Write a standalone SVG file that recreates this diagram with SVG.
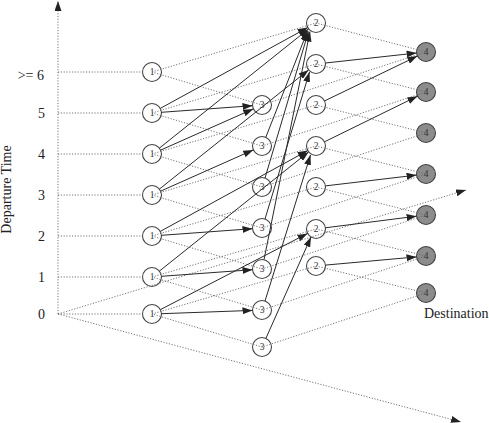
<svg xmlns="http://www.w3.org/2000/svg" width="489" height="423" viewBox="0 0 489 423">
<style>
.dot{fill:none;stroke:#666;stroke-width:0.9;stroke-dasharray:1.2 1.6}
.arr{fill:none;stroke:#2a2a2a;stroke-width:1;marker-end:url(#ah)}
.ax{fill:none;stroke:#666;stroke-width:0.9;stroke-dasharray:1.2 1.6;marker-end:url(#ah)}
.n{fill:none;stroke:#444;stroke-width:1.1}
.d{fill:#8c8c8c;stroke:#444;stroke-width:1.1}
.nt{font-family:"Liberation Serif",serif;font-size:9.5px;fill:#333;text-anchor:middle}
.lab{font-family:"Liberation Serif",serif;font-size:14px;fill:#222}
</style>
<defs>
<marker id="ah" markerUnits="userSpaceOnUse" markerWidth="10" markerHeight="7" viewBox="0 0 10 7" refX="10" refY="3.5" orient="auto">
<path d="M0,0 L10,3.5 L0,7 z" fill="#222" stroke="none"/>
</marker>
</defs>
<g id="labels">
<text class="lab" x="44" y="80" text-anchor="end">&gt;= 6</text>
<text class="lab" x="41.5" y="118" text-anchor="middle">5</text>
<text class="lab" x="41.5" y="159" text-anchor="middle">4</text>
<text class="lab" x="41.5" y="200" text-anchor="middle">3</text>
<text class="lab" x="41.5" y="241" text-anchor="middle">2</text>
<text class="lab" x="41.5" y="282" text-anchor="middle">1</text>
<text class="lab" x="41.5" y="319" text-anchor="middle">0</text>
<text class="lab" x="11" y="189.5" font-size="13" text-anchor="middle" transform="rotate(-90 11 189.5)">Departure Time</text>
<text class="lab" x="424" y="318">Destination</text>
</g>
<g id="n1_0"><circle class="n" cx="152" cy="314" r="9.5"/><text class="nt" x="152" y="317.3">1</text></g>
<g id="n1_1"><circle class="n" cx="152" cy="277" r="9.5"/><text class="nt" x="152" y="280.3">1</text></g>
<g id="n1_2"><circle class="n" cx="152" cy="236" r="9.5"/><text class="nt" x="152" y="239.3">1</text></g>
<g id="n1_3"><circle class="n" cx="152" cy="195" r="9.5"/><text class="nt" x="152" y="198.3">1</text></g>
<g id="n1_4"><circle class="n" cx="152" cy="154" r="9.5"/><text class="nt" x="152" y="157.3">1</text></g>
<g id="n1_5"><circle class="n" cx="152" cy="113" r="9.5"/><text class="nt" x="152" y="116.3">1</text></g>
<g id="n1_6"><circle class="n" cx="152" cy="72" r="9.5"/><text class="nt" x="152" y="75.3">1</text></g>
<g id="n2_0"><circle class="n" cx="316" cy="266" r="9.5"/><text class="nt" x="316" y="269.3">2</text></g>
<g id="n2_1"><circle class="n" cx="316" cy="229" r="9.5"/><text class="nt" x="316" y="232.3">2</text></g>
<g id="n2_2"><circle class="n" cx="316" cy="187" r="9.5"/><text class="nt" x="316" y="190.3">2</text></g>
<g id="n2_3"><circle class="n" cx="316" cy="146" r="9.5"/><text class="nt" x="316" y="149.3">2</text></g>
<g id="n2_4"><circle class="n" cx="316" cy="105" r="9.5"/><text class="nt" x="316" y="108.3">2</text></g>
<g id="n2_5"><circle class="n" cx="316" cy="64" r="9.5"/><text class="nt" x="316" y="67.3">2</text></g>
<g id="n2_6"><circle class="n" cx="316" cy="23" r="9.5"/><text class="nt" x="316" y="26.3">2</text></g>
<g id="n3_0"><circle class="n" cx="262" cy="347" r="9.5"/><text class="nt" x="262" y="350.3">3</text></g>
<g id="n3_1"><circle class="n" cx="262" cy="310" r="9.5"/><text class="nt" x="262" y="313.3">3</text></g>
<g id="n3_2"><circle class="n" cx="262" cy="269" r="9.5"/><text class="nt" x="262" y="272.3">3</text></g>
<g id="n3_3"><circle class="n" cx="262" cy="228" r="9.5"/><text class="nt" x="262" y="231.3">3</text></g>
<g id="n3_4"><circle class="n" cx="262" cy="187" r="9.5"/><text class="nt" x="262" y="190.3">3</text></g>
<g id="n3_5"><circle class="n" cx="262" cy="146" r="9.5"/><text class="nt" x="262" y="149.3">3</text></g>
<g id="n3_6"><circle class="n" cx="262" cy="105" r="9.5"/><text class="nt" x="262" y="108.3">3</text></g>
<g id="n4_0"><circle class="d" cx="426" cy="293" r="9.5"/><text class="nt" x="426" y="296.3">4</text></g>
<g id="n4_1"><circle class="d" cx="426" cy="256" r="9.5"/><text class="nt" x="426" y="259.3">4</text></g>
<g id="n4_2"><circle class="d" cx="426" cy="215" r="9.5"/><text class="nt" x="426" y="218.3">4</text></g>
<g id="n4_3"><circle class="d" cx="426" cy="174" r="9.5"/><text class="nt" x="426" y="177.3">4</text></g>
<g id="n4_4"><circle class="d" cx="426" cy="133" r="9.5"/><text class="nt" x="426" y="136.3">4</text></g>
<g id="n4_5"><circle class="d" cx="426" cy="92" r="9.5"/><text class="nt" x="426" y="95.3">4</text></g>
<g id="n4_6"><circle class="d" cx="426" cy="52" r="9.5"/><text class="nt" x="426" y="55.3">4</text></g>
<g id="grid">
<line class="ax" x1="58" y1="314" x2="58" y2="1"/>
<line class="ax" x1="58" y1="314" x2="466" y2="190"/>
<line class="ax" x1="58" y1="314" x2="461" y2="422"/>
<line class="dot" x1="58" y1="314" x2="142.5" y2="314"/>
<line class="dot" x1="58" y1="277" x2="142.5" y2="277"/>
<line class="dot" x1="58" y1="236" x2="142.5" y2="236"/>
<line class="dot" x1="58" y1="195" x2="142.5" y2="195"/>
<line class="dot" x1="58" y1="154" x2="142.5" y2="154"/>
<line class="dot" x1="58" y1="113" x2="142.5" y2="113"/>
<line class="dot" x1="58" y1="72" x2="142.5" y2="72"/>
<path class="dot" d="M152,314 L316,266 L426,293 L262,347 Z"/>
<path class="dot" d="M152,277 L316,229 L426,256 L262,310 Z"/>
<path class="dot" d="M152,236 L316,187 L426,215 L262,269 Z"/>
<path class="dot" d="M152,195 L316,146 L426,174 L262,228 Z"/>
<path class="dot" d="M152,154 L316,105 L426,133 L262,187 Z"/>
<path class="dot" d="M152,113 L316,64 L426,92 L262,146 Z"/>
<path class="dot" d="M152,72 L316,23 L426,52 L262,105 Z"/>
</g>
<g id="connectors">
<line class="arr" x1="160.3" y1="108.4" x2="307.7" y2="27.6"/>
<line class="arr" x1="159.4" y1="148.1" x2="308.6" y2="28.9"/>
<line class="arr" x1="159.4" y1="189.1" x2="308.6" y2="69.9"/>
<line class="arr" x1="160.3" y1="231.4" x2="307.7" y2="150.6"/>
<line class="arr" x1="159.4" y1="271.1" x2="308.6" y2="151.9"/>
<line class="arr" x1="160.4" y1="309.6" x2="307.6" y2="233.4"/>
<line class="arr" x1="161.5" y1="112.3" x2="252.5" y2="105.7"/>
<line class="arr" x1="160.7" y1="150.1" x2="253.3" y2="108.9"/>
<line class="arr" x1="160.7" y1="191.1" x2="253.3" y2="149.9"/>
<line class="arr" x1="161.5" y1="235.3" x2="252.5" y2="228.7"/>
<line class="arr" x1="161.5" y1="276.3" x2="252.5" y2="269.7"/>
<line class="arr" x1="161.5" y1="313.7" x2="252.5" y2="310.4"/>
<line class="arr" x1="325.4" y1="63" x2="416.6" y2="53"/>
<line class="arr" x1="324.6" y1="100.9" x2="417.4" y2="56.1"/>
<line class="arr" x1="324.5" y1="141.8" x2="417.5" y2="96.2"/>
<line class="arr" x1="325.4" y1="185.9" x2="416.6" y2="175.1"/>
<line class="arr" x1="325.4" y1="227.8" x2="416.6" y2="216.2"/>
<line class="arr" x1="325.5" y1="265.1" x2="416.5" y2="256.9"/>
<line class="arr" x1="265.9" y1="338.4" x2="311" y2="237"/>
<line class="arr" x1="265" y1="301" x2="310.5" y2="155"/>
<line class="arr" x1="264" y1="259.7" x2="310" y2="31.5"/>
<line class="arr" x1="265" y1="219" x2="309.5" y2="72"/>
<line class="arr" x1="265" y1="178" x2="308.5" y2="31.5"/>
<line class="arr" x1="265.8" y1="137.3" x2="307.5" y2="31"/>
</g>
</svg>
